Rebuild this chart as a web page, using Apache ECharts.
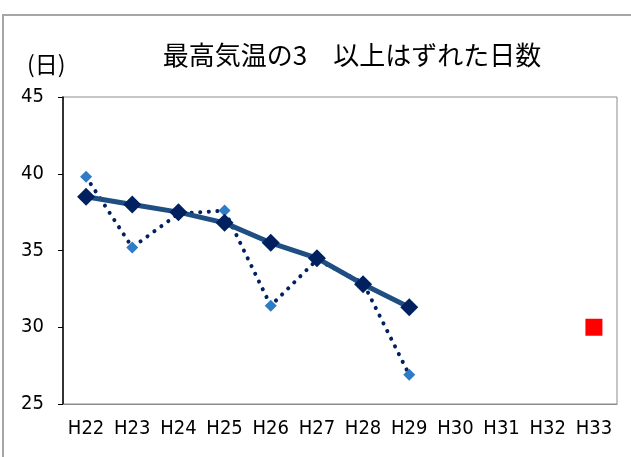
<!DOCTYPE html>
<html>
<head>
<meta charset="utf-8">
<script src="https://cdn.jsdelivr.net/npm/echarts@6/dist/echarts.min.js"></script>
<style>
  html, body { margin: 0; padding: 0; background: #fff; }
  #chart { width: 631px; height: 457px; }
</style>
</head>
<body>
<div id="chart"></div>
<script>
// 年度
const categories = ['H22', 'H23', 'H24', 'H25', 'H26', 'H27', 'H28', 'H29', 'H30', 'H31', 'H32', 'H33'];
// 実績（点線）
const actualDays = [39.8, 35.2, 37.4, 37.6, 31.4, 34.4, 32.9, 26.9, null, null, null, null];
// 平均（実線）
const averageDays = [38.5, 38.0, 37.5, 36.8, 35.5, 34.5, 32.8, 31.3, null, null, null, null];
// 目標
const targetDays = [null, null, null, null, null, null, null, null, null, null, null, 30];
const yTicks = { min: 25, max: 45, interval: 5 };

const chart = echarts.init(document.getElementById('chart'));
const numFont = 'DejaVu Sans Condensed';

chart.setOption({
  backgroundColor: '#fff',
  animation: false,
  title: {
    text: '最高気温の3　以上はずれた日数',
    left: 347,
    top: 37,
    textAlign: 'center',
    textStyle: { fontFamily: 'Noto Sans CJK JP', fontSize: 26, fontWeight: 'normal', color: '#000' }
  },
  graphic: [
    {
      type: 'polyline',
      shape: { points: [[3, 457], [3, 15], [631, 15]] },
      style: { stroke: '#a6a6a6', lineWidth: 2, fill: null }
    },
    {
      type: 'text',
      left: 27,
      top: 53,
      style: { text: '(日)', fontFamily: 'Noto Sans CJK JP', fontSize: 23, fill: '#000' }
    }
  ],
  grid: {
    left: 63, right: 14, top: 97, bottom: 53,
    show: true, borderColor: '#8c8c8c', borderWidth: 1
  },
  xAxis: {
    type: 'category',
    data: categories,
    boundaryGap: true,
    axisLine: { lineStyle: { color: '#8c8c8c', width: 1 } },
    axisTick: { alignWithLabel: true, length: 5, lineStyle: { color: '#8c8c8c' } },
    axisLabel: { interval: 0, fontFamily: numFont, fontSize: 20, color: '#000', margin: 15 },
    splitLine: { show: false }
  },
  yAxis: {
    type: 'value',
    min: yTicks.min,
    max: yTicks.max,
    interval: yTicks.interval,
    axisLine: { show: true, lineStyle: { color: '#000', width: 1.5 } },
    axisTick: { show: true, length: 5, lineStyle: { color: '#000' } },
    axisLabel: { fontFamily: numFont, fontSize: 20, color: '#000', margin: 19 },
    splitLine: { show: false }
  },
  series: [
    {
      name: '実績',
      type: 'line',
      data: actualDays,
      symbol: 'diamond',
      symbolSize: 12,
      itemStyle: { color: '#2e7bc6' },
      lineStyle: { color: '#002060', width: 4, type: [0.1, 8.5], cap: 'round' },
      z: 2
    },
    {
      name: '平均',
      type: 'line',
      data: averageDays,
      symbol: 'diamond',
      symbolSize: 18,
      itemStyle: { color: '#002060' },
      lineStyle: { color: '#1f4e82', width: 5 },
      z: 3
    },
    {
      name: '目標',
      type: 'line',
      data: targetDays,
      symbol: 'rect',
      symbolSize: 17,
      itemStyle: { color: '#ff0000' },
      lineStyle: { width: 0 },
      z: 4
    }
  ]
});
</script>
</body>
</html>
